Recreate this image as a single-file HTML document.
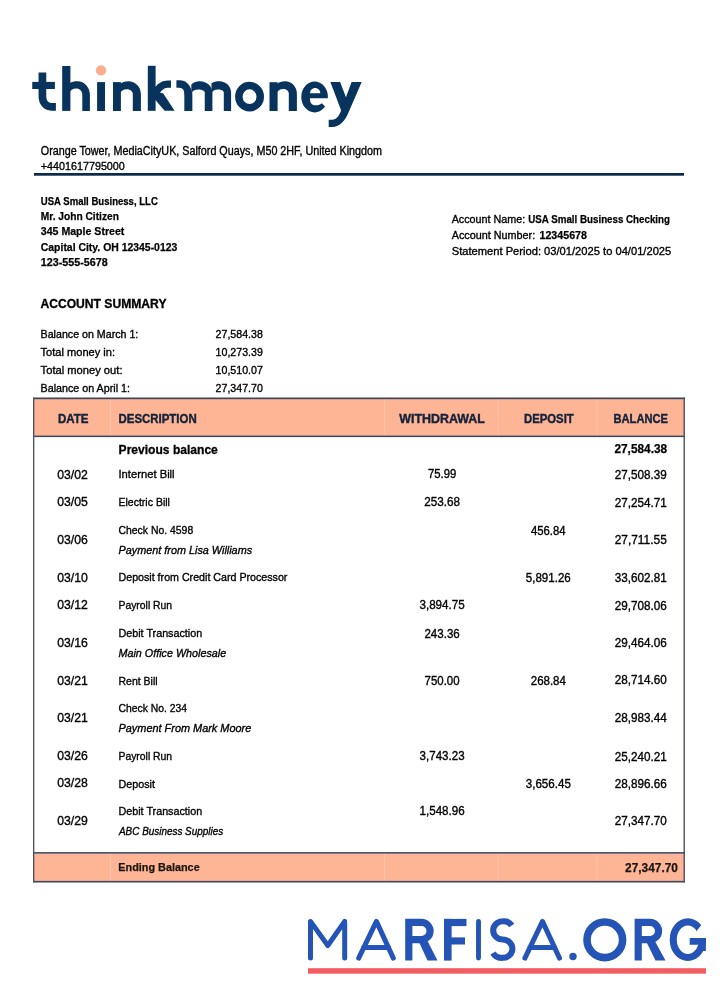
<!DOCTYPE html>
<html><head><meta charset="utf-8"><title>thinkmoney statement</title>
<style>
html,body{margin:0;padding:0;background:#fff;width:720px;height:1000px;overflow:hidden;}
body{position:relative;font-family:"Liberation Sans",sans-serif;}
</style></head><body>
<svg width="720" height="1000" viewBox="0 0 720 1000" style="position:absolute;left:0;top:0;will-change:transform" font-family="Liberation Sans, sans-serif"><defs><filter id="soft" x="0" y="0" width="720" height="1000" filterUnits="userSpaceOnUse"><feGaussianBlur stdDeviation="0.3"/></filter></defs>
<g fill="#07335c" stroke="none">
  <rect x="32.25" y="81.9" width="22.65" height="7.1"/>
  <path d="M42.4 72.5 V96 C42.4 102.5 46 106.85 51.5 106.85 H55.9" fill="none" stroke="#07335c" stroke-width="7.7"/>
  <rect x="62.2" y="66.0" width="8.2" height="44.9"/>
  <path d="M69.5,83.4 C71.90,81.83 73.90,81.3 77.5,81.3 C84.35,81.3 89.9,87.30 89.9,94.7 V111 H82.3 V94.7 C82.3,91.33 79.61,88.6 76.3,88.6 C72.56,88.6 70.52,90.36 69.5,93.0 Z"/>
  <rect x="97.1" y="82.1" width="7.9" height="28.9"/>
  <circle cx="101" cy="70.4" r="5.2" fill="#fbae8e"/>
  <rect x="113" y="82.1" width="7.9" height="28.9"/>
  <path d="M120.0,84.3 C122.49,82.05 124.57,81.3 128.3,81.3 C135.26,81.3 140.9,86.99 140.9,94.0 V111 H132.8 V94.0 C132.8,91.35 130.20,89.2 127.0,89.2 C123.15,89.2 121.05,90.88 120.0,93.4 Z"/>
  <rect x="147.8" y="65.8" width="7.8" height="45"/>
  <path d="M171 84.05 H167.5 C162 84.05 158 87.5 153.5 95.5" fill="none" stroke="#07335c" stroke-width="7.3"/>
  <polygon points="155,91 163.3,93.5 174.6,110.8 164.6,110.8 155,99.5"/>
  <path d="M188.4 111 V96 C188.4 88 184.5 84.05 179.5 84.05 H176.4" fill="none" stroke="#07335c" stroke-width="7.5"/>
  <rect x="184.5" y="92" width="7.75" height="19"/>
  <path d="M191.35,84.5 C193.91,82.03 196.05,81.2 199.9,81.2 C206.80,81.2 212.4,86.26 212.4,92.5 V111 H204.75 V92.5 C204.75,90.84 201.95,89.5 198.5,89.5 C194.57,89.5 192.42,91.10 191.35,93.5 Z"/>
  <path d="M211.5,83.3 C213.90,81.72 215.90,81.2 219.5,81.2 C225.91,81.2 231.1,86.26 231.1,92.5 V111 H223.8 V92.5 C223.8,90.84 221.25,89.5 218.1,89.5 C214.47,89.5 212.49,91.10 211.5,93.5 Z"/>
  <ellipse cx="249.55" cy="96.65" rx="10.7" ry="11.1" fill="none" stroke="#07335c" stroke-width="7.5"/>
  <rect x="269.5" y="82.2" width="8.1" height="28.8"/>
  <path d="M276.7,84.3 C279.25,82.05 281.38,81.3 285.2,81.3 C291.66,81.3 296.9,86.76 296.9,93.5 V111 H288.8 V93.5 C288.8,91.07 286.29,89.1 283.2,89.1 C279.62,89.1 277.68,90.82 276.7,93.4 Z"/>
  <ellipse cx="314.6" cy="96.95" rx="13.3" ry="15.45"/>
  <path d="M310,93.2 H320.3 C320.3,90.2 318,87.9 315.15,87.9 C312.3,87.9 310,90.2 310,93.2 Z" fill="#fff"/>
  <path d="M310,98.2 H330 V108.8 L325.5,107.1 L321.9,103.2 C320,104.8 317.5,105.3 315.5,105.3 C312.5,105.3 310,103 310,100 Z" fill="#fff"/>
  <path d="M330.4,81.9 H340.1 L347,100 L341.5,111.5 Z"/>
  <path d="M351.6,81.9 H361.7 L348.5,112.5 C345.5,120 340,127 332,127 H328.7 V119.8 H331.5 C335.5,119.8 338.5,117 340.5,112 Z"/>
</g>

<rect x="34" y="173" width="650" height="2.7" fill="#0a2a4a"/>
<rect x="33" y="398" width="652" height="38" fill="#fdb595"/>
<rect x="33" y="853" width="652" height="29" fill="#fdb595"/>
<rect x="110.0" y="399" width="1" height="37" fill="#fec2a6"/>
<rect x="110.0" y="853" width="1" height="28" fill="#fec2a6"/>
<rect x="384.0" y="399" width="1" height="37" fill="#fec2a6"/>
<rect x="384.0" y="853" width="1" height="28" fill="#fec2a6"/>
<rect x="497.5" y="399" width="1" height="37" fill="#fec2a6"/>
<rect x="497.5" y="853" width="1" height="28" fill="#fec2a6"/>
<rect x="596.5" y="399" width="1" height="37" fill="#fec2a6"/>
<rect x="596.5" y="853" width="1" height="28" fill="#fec2a6"/>
<rect x="33" y="397.5" width="652" height="1.7" fill="#3b475c"/>
<rect x="33" y="435.6" width="652" height="1.5" fill="#3b475c"/>
<rect x="33" y="852" width="652" height="1.7" fill="#4a5a78"/>
<rect x="33" y="880.9" width="652" height="1.6" fill="#3b475c"/>
<rect x="33" y="397.5" width="1.35" height="485" fill="#4a5266"/>
<rect x="683.5" y="397.5" width="1.4" height="485" fill="#4a5266"/>

<g fill="none" stroke="#2454b6" stroke-linecap="round" stroke-linejoin="round">
  <path d="M310.5 958.1 V921.4 L327.8 945.5 L344.7 921.4 V958.1" stroke-width="5"/>
  <path d="M358.7 958.1 L376.4 921.4 L393.3 958.1 M363.5 947.5 H388.6" stroke-width="5"/>
  <path d="M524.9 958.1 L542.5 921.4 L559.5 958.1 M529.7 947.5 H554.8" stroke-width="5"/>
  <path d="M478.5 921.4 V958.1" stroke-width="4.9"/>
</g>
<g fill="none" stroke="#2454b6" stroke-linecap="butt">
  <path d="M408.8 960.6 V922.4 H421.5 A8.6 8.6 0 0 1 421.5 939.6 H409" stroke-width="7.2"/>
  <path d="M638.2 960.6 V922.4 H650 A8.6 8.6 0 0 1 650 939.6 H638" stroke-width="7.2"/>
  <path d="M511.8 925.5 A9.5 9.1 0 0 0 502.7 921.3 A9.5 9.1 0 0 0 493.2 930.4 A9.5 9.1 0 0 0 502.7 939.5 A9.7 9.15 0 0 1 512.4 948.65 A9.7 9.15 0 0 1 502.7 957.8 A9.7 9.15 0 0 1 493 953" stroke-width="6.1"/>
  <circle cx="604.8" cy="939.8" r="17.8" stroke-width="7.6"/>
  <ellipse cx="687.85" cy="939.65" rx="14.6" ry="17.8" stroke-width="7.1"/>
  <polygon points="697,930.5 704.5,921 712,921 712,938.2 697,938.2" fill="#fff" stroke="none"/>
  <path d="M689.7 941.35 H702.45 V951" stroke-width="6.8" fill="none"/>
</g>
<g fill="#2454b6">
  <polygon points="418.5,941 426.5,939 437.5,960.6 427.5,960.6"/>
  <polygon points="646,941 654,939.5 665.5,960.6 655.5,960.6"/>
  <rect x="444" y="918.9" width="7.6" height="41.7"/>
  <rect x="444" y="918.9" width="22.5" height="7.2"/>
  <rect x="444" y="937.4" width="21" height="7.1"/>
  <circle cx="573" cy="956.5" r="3.7"/>
</g>
<rect x="308" y="968.2" width="398" height="5.5" fill="#f25d62"/>
<g filter="url(#soft)"><text x="40.80" y="155.40" font-size="11.875" font-weight="normal" font-style="normal" fill="#000" stroke="#000" stroke-width="0.35" textLength="341.20" lengthAdjust="spacingAndGlyphs">Orange Tower, MediaCityUK, Salford Quays, M50 2HF, United Kingdom</text>
<text x="40.80" y="170.40" font-size="11.466" font-weight="normal" font-style="normal" fill="#000" stroke="#000" stroke-width="0.35" textLength="84.00" lengthAdjust="spacingAndGlyphs">+4401617795000</text>
<text x="40.80" y="204.50" font-size="10.803" font-weight="bold" font-style="normal" fill="#000" stroke="#000" stroke-width="0.25" textLength="117.00" lengthAdjust="spacingAndGlyphs">USA Small Business, LLC</text>
<text x="40.80" y="219.90" font-size="10.992" font-weight="bold" font-style="normal" fill="#000" stroke="#000" stroke-width="0.25" textLength="78.10" lengthAdjust="spacingAndGlyphs">Mr. John Citizen</text>
<text x="40.80" y="235.30" font-size="11.114" font-weight="bold" font-style="normal" fill="#000" stroke="#000" stroke-width="0.25" textLength="83.60" lengthAdjust="spacingAndGlyphs">345 Maple Street</text>
<text x="40.80" y="250.70" font-size="11.062" font-weight="bold" font-style="normal" fill="#000" stroke="#000" stroke-width="0.25" textLength="136.50" lengthAdjust="spacingAndGlyphs">Capital City. OH 12345-0123</text>
<text x="40.80" y="266.10" font-size="11.163" font-weight="bold" font-style="normal" fill="#000" stroke="#000" stroke-width="0.25" textLength="67.00" lengthAdjust="spacingAndGlyphs">123-555-5678</text>
<text x="451.70" y="223.30" font-size="11.365" font-weight="normal" font-style="normal" fill="#000" stroke="#000" stroke-width="0.35" textLength="73.50" lengthAdjust="spacingAndGlyphs">Account Name:</text>
<text x="528.30" y="223.30" font-size="11.067" font-weight="bold" font-style="normal" fill="#000" stroke="#000" stroke-width="0.25" textLength="141.70" lengthAdjust="spacingAndGlyphs">USA Small Business Checking</text>
<text x="451.70" y="239.20" font-size="11.382" font-weight="normal" font-style="normal" fill="#000" stroke="#000" stroke-width="0.35" textLength="83.50" lengthAdjust="spacingAndGlyphs">Account Number:</text>
<text x="539.50" y="239.20" font-size="11.343" font-weight="bold" font-style="normal" fill="#000" stroke="#000" stroke-width="0.25" textLength="47.50" lengthAdjust="spacingAndGlyphs">12345678</text>
<text x="451.70" y="254.70" font-size="11.487" font-weight="normal" font-style="normal" fill="#000" stroke="#000" stroke-width="0.35" textLength="219.60" lengthAdjust="spacingAndGlyphs">Statement Period: 03/01/2025 to 04/01/2025</text>
<text x="40.40" y="307.80" font-size="13.402" font-weight="bold" font-style="normal" fill="#000" stroke="#000" stroke-width="0.35" textLength="126.10" lengthAdjust="spacingAndGlyphs">ACCOUNT SUMMARY</text>
<text x="40.60" y="337.60" font-size="11.132" font-weight="normal" font-style="normal" fill="#000" stroke="#000" stroke-width="0.35" textLength="97.70" lengthAdjust="spacingAndGlyphs">Balance on March 1:</text>
<text x="215.60" y="337.60" font-size="11.119" font-weight="normal" font-style="normal" fill="#000" stroke="#000" stroke-width="0.35" textLength="47.20" lengthAdjust="spacingAndGlyphs">27,584.38</text>
<text x="40.60" y="355.90" font-size="11.255" font-weight="normal" font-style="normal" fill="#000" stroke="#000" stroke-width="0.35" textLength="74.40" lengthAdjust="spacingAndGlyphs">Total money in:</text>
<text x="215.60" y="355.90" font-size="11.119" font-weight="normal" font-style="normal" fill="#000" stroke="#000" stroke-width="0.35" textLength="47.20" lengthAdjust="spacingAndGlyphs">10,273.39</text>
<text x="40.60" y="374.00" font-size="11.285" font-weight="normal" font-style="normal" fill="#000" stroke="#000" stroke-width="0.35" textLength="81.90" lengthAdjust="spacingAndGlyphs">Total money out:</text>
<text x="215.60" y="374.00" font-size="11.119" font-weight="normal" font-style="normal" fill="#000" stroke="#000" stroke-width="0.35" textLength="47.20" lengthAdjust="spacingAndGlyphs">10,510.07</text>
<text x="40.60" y="391.90" font-size="11.152" font-weight="normal" font-style="normal" fill="#000" stroke="#000" stroke-width="0.35" textLength="89.40" lengthAdjust="spacingAndGlyphs">Balance on April 1:</text>
<text x="215.60" y="391.90" font-size="11.119" font-weight="normal" font-style="normal" fill="#000" stroke="#000" stroke-width="0.35" textLength="47.20" lengthAdjust="spacingAndGlyphs">27,347.70</text>
<text x="57.90" y="422.50" font-size="12.918" font-weight="bold" font-style="normal" fill="#14213a" stroke="#14213a" stroke-width="0.42" textLength="30.50" lengthAdjust="spacingAndGlyphs">DATE</text>
<text x="118.50" y="422.50" font-size="12.895" font-weight="bold" font-style="normal" fill="#14213a" stroke="#14213a" stroke-width="0.42" textLength="78.20" lengthAdjust="spacingAndGlyphs">DESCRIPTION</text>
<text x="399.30" y="422.50" font-size="13.190" font-weight="bold" font-style="normal" fill="#14213a" stroke="#14213a" stroke-width="0.42" textLength="85.60" lengthAdjust="spacingAndGlyphs">WITHDRAWAL</text>
<text x="524.00" y="422.50" font-size="12.859" font-weight="bold" font-style="normal" fill="#14213a" stroke="#14213a" stroke-width="0.42" textLength="49.70" lengthAdjust="spacingAndGlyphs">DEPOSIT</text>
<text x="613.50" y="422.50" font-size="12.806" font-weight="bold" font-style="normal" fill="#14213a" stroke="#14213a" stroke-width="0.42" textLength="54.50" lengthAdjust="spacingAndGlyphs">BALANCE</text>
<text x="118.60" y="453.80" font-size="13.182" font-weight="bold" font-style="normal" fill="#000" stroke="#000" stroke-width="0.32" textLength="99.20" lengthAdjust="spacingAndGlyphs">Previous balance</text>
<text x="614.40" y="452.80" font-size="12.107" font-weight="bold" font-style="normal" fill="#000" stroke="#000" stroke-width="0.25" textLength="52.80" lengthAdjust="spacingAndGlyphs">27,584.38</text>
<text x="57.20" y="478.90" font-size="12.826" font-weight="normal" font-style="normal" fill="#000" stroke="#000" stroke-width="0.35" textLength="30.61" lengthAdjust="spacingAndGlyphs">03/02</text>
<text x="118.50" y="478.30" font-size="11.606" font-weight="normal" font-style="normal" fill="#000" stroke="#000" stroke-width="0.35" textLength="56.11" lengthAdjust="spacingAndGlyphs">Internet Bill</text>
<text x="427.95" y="478.00" font-size="11.940" font-weight="normal" font-style="normal" fill="#000" stroke="#000" stroke-width="0.35" textLength="28.31" lengthAdjust="spacingAndGlyphs">75.99</text>
<text x="614.70" y="478.70" font-size="12.060" font-weight="normal" font-style="normal" fill="#000" stroke="#000" stroke-width="0.35" textLength="52.10" lengthAdjust="spacingAndGlyphs">27,508.39</text>
<text x="57.20" y="506.40" font-size="12.826" font-weight="normal" font-style="normal" fill="#000" stroke="#000" stroke-width="0.35" textLength="30.61" lengthAdjust="spacingAndGlyphs">03/05</text>
<text x="118.50" y="506.00" font-size="11.395" font-weight="normal" font-style="normal" fill="#000" stroke="#000" stroke-width="0.35" textLength="51.40" lengthAdjust="spacingAndGlyphs">Electric Bill</text>
<text x="424.20" y="505.90" font-size="12.057" font-weight="normal" font-style="normal" fill="#000" stroke="#000" stroke-width="0.35" textLength="35.80" lengthAdjust="spacingAndGlyphs">253.68</text>
<text x="614.70" y="506.70" font-size="12.060" font-weight="normal" font-style="normal" fill="#000" stroke="#000" stroke-width="0.35" textLength="52.10" lengthAdjust="spacingAndGlyphs">27,254.71</text>
<text x="57.20" y="544.40" font-size="12.826" font-weight="normal" font-style="normal" fill="#000" stroke="#000" stroke-width="0.35" textLength="30.61" lengthAdjust="spacingAndGlyphs">03/06</text>
<text x="118.50" y="534.00" font-size="11.366" font-weight="normal" font-style="normal" fill="#000" stroke="#000" stroke-width="0.35" textLength="74.70" lengthAdjust="spacingAndGlyphs">Check No. 4598</text>
<text x="118.50" y="554.00" font-size="11.493" font-weight="normal" font-style="italic" fill="#000" stroke="#000" stroke-width="0.35" textLength="133.60" lengthAdjust="spacingAndGlyphs">Payment from Lisa Williams</text>
<text x="530.95" y="535.00" font-size="11.950" font-weight="normal" font-style="normal" fill="#000" stroke="#000" stroke-width="0.35" textLength="34.70" lengthAdjust="spacingAndGlyphs">456.84</text>
<text x="614.70" y="544.20" font-size="12.119" font-weight="normal" font-style="normal" fill="#000" stroke="#000" stroke-width="0.35" textLength="52.09" lengthAdjust="spacingAndGlyphs">27,711.55</text>
<text x="57.20" y="581.70" font-size="12.826" font-weight="normal" font-style="normal" fill="#000" stroke="#000" stroke-width="0.35" textLength="30.61" lengthAdjust="spacingAndGlyphs">03/10</text>
<text x="118.50" y="581.40" font-size="11.441" font-weight="normal" font-style="normal" fill="#000" stroke="#000" stroke-width="0.35" textLength="168.90" lengthAdjust="spacingAndGlyphs">Deposit from Credit Card Processor</text>
<text x="525.80" y="581.70" font-size="12.014" font-weight="normal" font-style="normal" fill="#000" stroke="#000" stroke-width="0.35" textLength="45.00" lengthAdjust="spacingAndGlyphs">5,891.26</text>
<text x="614.70" y="581.70" font-size="12.060" font-weight="normal" font-style="normal" fill="#000" stroke="#000" stroke-width="0.35" textLength="52.10" lengthAdjust="spacingAndGlyphs">33,602.81</text>
<text x="57.20" y="609.40" font-size="12.826" font-weight="normal" font-style="normal" fill="#000" stroke="#000" stroke-width="0.35" textLength="30.61" lengthAdjust="spacingAndGlyphs">03/12</text>
<text x="118.50" y="608.90" font-size="11.352" font-weight="normal" font-style="normal" fill="#000" stroke="#000" stroke-width="0.35" textLength="53.60" lengthAdjust="spacingAndGlyphs">Payroll Run</text>
<text x="419.45" y="609.20" font-size="12.037" font-weight="normal" font-style="normal" fill="#000" stroke="#000" stroke-width="0.35" textLength="45.30" lengthAdjust="spacingAndGlyphs">3,894.75</text>
<text x="614.70" y="609.80" font-size="12.060" font-weight="normal" font-style="normal" fill="#000" stroke="#000" stroke-width="0.35" textLength="52.10" lengthAdjust="spacingAndGlyphs">29,708.06</text>
<text x="57.20" y="647.20" font-size="12.826" font-weight="normal" font-style="normal" fill="#000" stroke="#000" stroke-width="0.35" textLength="30.61" lengthAdjust="spacingAndGlyphs">03/16</text>
<text x="118.50" y="637.00" font-size="11.468" font-weight="normal" font-style="normal" fill="#000" stroke="#000" stroke-width="0.35" textLength="83.70" lengthAdjust="spacingAndGlyphs">Debit Transaction</text>
<text x="118.50" y="657.10" font-size="11.471" font-weight="normal" font-style="italic" fill="#000" stroke="#000" stroke-width="0.35" textLength="107.70" lengthAdjust="spacingAndGlyphs">Main Office Wholesale</text>
<text x="424.45" y="637.50" font-size="12.008" font-weight="normal" font-style="normal" fill="#000" stroke="#000" stroke-width="0.35" textLength="35.30" lengthAdjust="spacingAndGlyphs">243.36</text>
<text x="614.70" y="647.20" font-size="12.060" font-weight="normal" font-style="normal" fill="#000" stroke="#000" stroke-width="0.35" textLength="52.10" lengthAdjust="spacingAndGlyphs">29,464.06</text>
<text x="57.20" y="685.00" font-size="12.826" font-weight="normal" font-style="normal" fill="#000" stroke="#000" stroke-width="0.35" textLength="30.61" lengthAdjust="spacingAndGlyphs">03/21</text>
<text x="118.50" y="684.60" font-size="11.391" font-weight="normal" font-style="normal" fill="#000" stroke="#000" stroke-width="0.35" textLength="39.10" lengthAdjust="spacingAndGlyphs">Rent Bill</text>
<text x="424.60" y="684.80" font-size="11.979" font-weight="normal" font-style="normal" fill="#000" stroke="#000" stroke-width="0.35" textLength="35.00" lengthAdjust="spacingAndGlyphs">750.00</text>
<text x="530.75" y="685.00" font-size="11.989" font-weight="normal" font-style="normal" fill="#000" stroke="#000" stroke-width="0.35" textLength="35.10" lengthAdjust="spacingAndGlyphs">268.84</text>
<text x="614.70" y="684.40" font-size="12.060" font-weight="normal" font-style="normal" fill="#000" stroke="#000" stroke-width="0.35" textLength="52.10" lengthAdjust="spacingAndGlyphs">28,714.60</text>
<text x="57.20" y="722.20" font-size="12.826" font-weight="normal" font-style="normal" fill="#000" stroke="#000" stroke-width="0.35" textLength="30.61" lengthAdjust="spacingAndGlyphs">03/21</text>
<text x="118.50" y="711.70" font-size="11.352" font-weight="normal" font-style="normal" fill="#000" stroke="#000" stroke-width="0.35" textLength="68.60" lengthAdjust="spacingAndGlyphs">Check No. 234</text>
<text x="118.50" y="731.90" font-size="11.515" font-weight="normal" font-style="italic" fill="#000" stroke="#000" stroke-width="0.35" textLength="132.79" lengthAdjust="spacingAndGlyphs">Payment From Mark Moore</text>
<text x="614.70" y="721.90" font-size="12.060" font-weight="normal" font-style="normal" fill="#000" stroke="#000" stroke-width="0.35" textLength="52.10" lengthAdjust="spacingAndGlyphs">28,983.44</text>
<text x="57.20" y="760.00" font-size="12.826" font-weight="normal" font-style="normal" fill="#000" stroke="#000" stroke-width="0.35" textLength="30.61" lengthAdjust="spacingAndGlyphs">03/26</text>
<text x="118.50" y="759.60" font-size="11.352" font-weight="normal" font-style="normal" fill="#000" stroke="#000" stroke-width="0.35" textLength="53.60" lengthAdjust="spacingAndGlyphs">Payroll Run</text>
<text x="419.60" y="759.90" font-size="12.014" font-weight="normal" font-style="normal" fill="#000" stroke="#000" stroke-width="0.35" textLength="45.00" lengthAdjust="spacingAndGlyphs">3,743.23</text>
<text x="614.70" y="760.60" font-size="12.060" font-weight="normal" font-style="normal" fill="#000" stroke="#000" stroke-width="0.35" textLength="52.10" lengthAdjust="spacingAndGlyphs">25,240.21</text>
<text x="57.20" y="787.20" font-size="12.826" font-weight="normal" font-style="normal" fill="#000" stroke="#000" stroke-width="0.35" textLength="30.61" lengthAdjust="spacingAndGlyphs">03/28</text>
<text x="118.50" y="787.50" font-size="11.470" font-weight="normal" font-style="normal" fill="#000" stroke="#000" stroke-width="0.35" textLength="36.50" lengthAdjust="spacingAndGlyphs">Deposit</text>
<text x="525.72" y="787.70" font-size="12.026" font-weight="normal" font-style="normal" fill="#000" stroke="#000" stroke-width="0.35" textLength="45.15" lengthAdjust="spacingAndGlyphs">3,656.45</text>
<text x="614.70" y="788.00" font-size="12.060" font-weight="normal" font-style="normal" fill="#000" stroke="#000" stroke-width="0.35" textLength="52.10" lengthAdjust="spacingAndGlyphs">28,896.66</text>
<text x="57.20" y="825.40" font-size="12.826" font-weight="normal" font-style="normal" fill="#000" stroke="#000" stroke-width="0.35" textLength="30.61" lengthAdjust="spacingAndGlyphs">03/29</text>
<text x="118.50" y="814.60" font-size="11.468" font-weight="normal" font-style="normal" fill="#000" stroke="#000" stroke-width="0.35" textLength="83.70" lengthAdjust="spacingAndGlyphs">Debit Transaction</text>
<text x="119.00" y="834.80" font-size="11.214" font-weight="normal" font-style="italic" fill="#000" stroke="#000" stroke-width="0.35" textLength="104.11" lengthAdjust="spacingAndGlyphs">ABC Business Supplies</text>
<text x="419.50" y="815.30" font-size="12.030" font-weight="normal" font-style="normal" fill="#000" stroke="#000" stroke-width="0.35" textLength="45.20" lengthAdjust="spacingAndGlyphs">1,548.96</text>
<text x="614.70" y="825.30" font-size="12.060" font-weight="normal" font-style="normal" fill="#000" stroke="#000" stroke-width="0.35" textLength="52.10" lengthAdjust="spacingAndGlyphs">27,347.70</text>
<text x="118.30" y="871.40" font-size="11.802" font-weight="bold" font-style="normal" fill="#1a1410" stroke="#1a1410" stroke-width="0.25" textLength="81.39" lengthAdjust="spacingAndGlyphs">Ending Balance</text>
<text x="625.10" y="871.80" font-size="12.310" font-weight="bold" font-style="normal" fill="#1a1410" stroke="#1a1410" stroke-width="0.25" textLength="52.80" lengthAdjust="spacingAndGlyphs">27,347.70</text></g></svg>
</body></html>
